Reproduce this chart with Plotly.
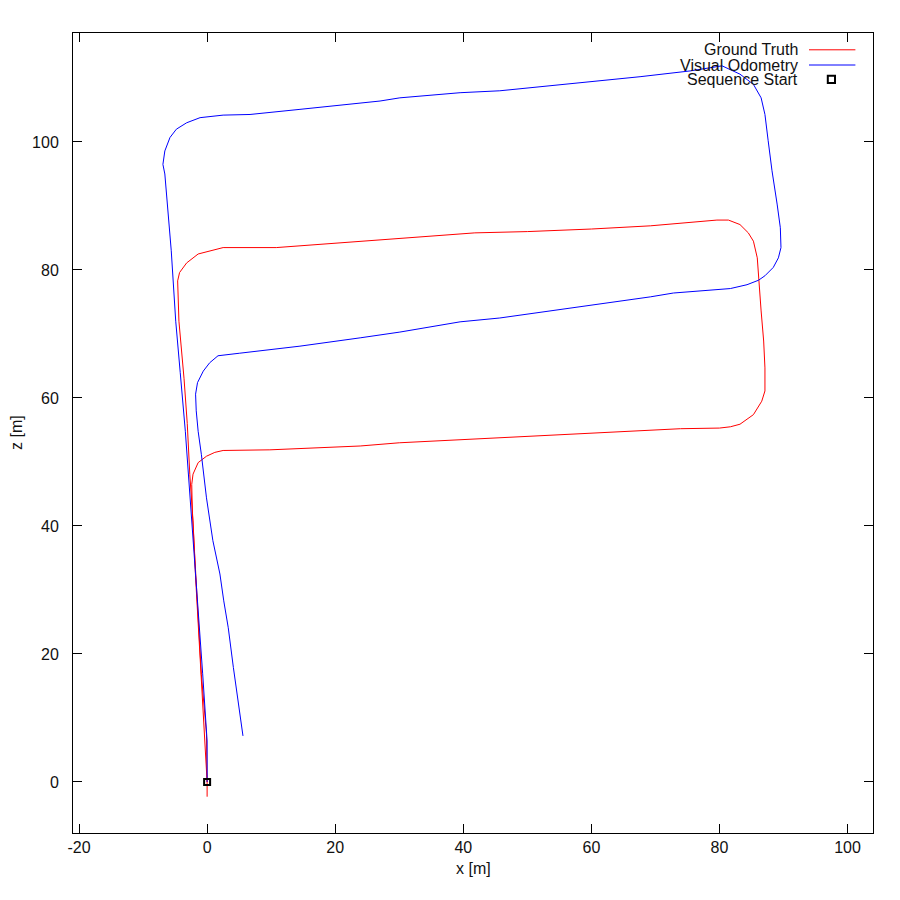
import plotly.graph_objects as go

# Ground truth trajectory (x, z) in metres
gt_x = [0, -0.1, -0.9, -1.4, -2.0, -2.3, -2.4, -2.2, -1.4, -0.1, 1.2, 2.5, 9.8, 14.5, 23.9, 30.0, 41.8, 50.0,
        61.4, 69.2, 73.9, 80.0, 81.7, 83.2, 85.3, 86.6, 87.1, 87.1, 86.9, 86.5, 86.2, 85.9, 85.3, 84.5, 83.2,
        81.4, 79.6, 76.5, 69.2, 60.0, 50.0, 41.8, 30.1, 20.0, 14.5, 10.8, 2.5, -1.4, -3.2, -4.3, -4.6, -4.5,
        -4.4, -3.6, -3.1, -2.7, -2.2, -1.8, -1.3, -0.6, 0.0, 0.0]
gt_z = [0, 7.5, 16.8, 25.2, 35.0, 42.0, 46.5, 48.1, 49.9, 50.9, 51.5, 51.8, 51.9, 52.1, 52.5, 53.0, 53.6, 54.0,
        54.5, 55.0, 55.2, 55.3, 55.5, 55.9, 57.4, 59.5, 61.1, 64.7, 68.9, 73.6, 78.3, 81.9, 84.5, 85.8, 87.1,
        87.8, 87.8, 87.5, 86.9, 86.4, 86.0, 85.8, 84.9, 84.2, 83.75, 83.5, 83.5, 82.5, 81.1, 79.6, 78.3, 73.9,
        72.0, 63.0, 56.0, 48.0, 40.8, 32.0, 23.6, 12.0, 0.0, -2.3]

# Visual odometry trajectory (x, z) in metres
vo_x = [0, 0.0, -0.7, -1.5, -2.4, -3.4, -4.2, -4.9, -5.6, -6.1, -6.6, -6.9, -6.6, -5.8, -4.8, -3.2, -1.1, 2.5,
        6.7, 14.5, 27.0, 30.1, 39.5, 45.7, 52.0, 61.4, 67.6, 75.4, 80.4, 83.2, 85.3, 86.5, 87.1, 87.6, 88.2,
        89.0, 89.5, 89.6, 89.2, 88.4, 87.1, 86.1, 84.3, 81.7, 78.0, 72.8, 69.2, 61.4, 45.7, 39.5, 30.1, 23.9,
        14.5, 5.1, 1.7, 0.4, -0.6, -1.5, -1.8, -1.7, -1.4, -0.9, -0.1, 0.9, 2.0, 2.6, 3.3, 4.1, 4.8, 5.6]
vo_z = [0, 6.4, 17.0, 28.3, 40.8, 54.8, 64.0, 72.0, 83.0, 89.7, 95.0, 96.5, 98.6, 100.7, 102.0, 103.0, 103.8,
        104.2, 104.3, 105.1, 106.4, 106.9, 107.7, 108.0, 108.6, 109.5, 110.2, 111.1, 111.9, 110.6, 109.0, 106.9,
        104.3, 100.2, 95.5, 90.3, 86.6, 83.5, 81.9, 80.4, 79.1, 78.4, 77.7, 77.1, 76.8, 76.4, 75.8, 74.7, 72.5,
        71.9, 70.3, 69.4, 68.1, 67.0, 66.6, 65.5, 64.2, 62.4, 60.6, 58.0, 54.8, 51.2, 44.4, 37.7, 32.5, 28.3,
        24.1, 17.9, 12.7, 7.2]

start_x = [0]
start_z = [0]

x_ticks = [-20, 0, 20, 40, 60, 80, 100]
x_ticktext = ["-20", "0", "20", "40", "60", "80", "100"]
z_ticks = [0, 20, 40, 60, 80, 100]
legend_labels = ["Ground Truth", "Visual Odometry", "Sequence Start"]
x_title = "x [m]"
z_title = "z [m]"

FONT = "Liberation Sans, Arial, sans-serif"
FS = 16
TXT = "#111"

fig = go.Figure()
fig.add_trace(go.Scatter(x=gt_x, y=gt_z, mode="lines", line=dict(color="#ff0000", width=1),
                         name=legend_labels[0], showlegend=False))
fig.add_trace(go.Scatter(x=vo_x, y=vo_z, mode="lines", line=dict(color="#0000ff", width=1),
                         name=legend_labels[1], showlegend=False))
fig.add_trace(go.Scatter(x=start_x, y=start_z, mode="markers",
                         marker=dict(symbol="square-open", size=6, color="black", line=dict(width=2, color="black")),
                         name=legend_labels[2], showlegend=False))

axis_common = dict(showgrid=False, zeroline=False, showline=True, linecolor="black", linewidth=1,
                   mirror="ticks", ticks="inside", ticklen=9, tickwidth=1, tickcolor="black",
                   automargin=False, tickfont=dict(family=FONT, size=FS, color=TXT))

fig.update_xaxes(range=[-20.94, 103.97], tickvals=x_ticks, ticktext=x_ticktext, ticklabelstandoff=0,
                 **axis_common)
fig.update_yaxes(range=[-7.97, 117.03], tickvals=z_ticks, ticklabelstandoff=10,
                 **axis_common)

# axis titles
fig.add_annotation(xref="paper", yref="paper", x=0.5, y=0, yshift=-35, text=x_title, showarrow=False,
                   xanchor="center", yanchor="middle", font=dict(family=FONT, size=FS, color=TXT))
fig.add_annotation(xref="paper", yref="paper", x=0, y=0.5, xshift=-57, text=z_title, showarrow=False,
                   textangle=-90, xanchor="center", yanchor="middle", font=dict(family=FONT, size=FS, color=TXT))

# custom gnuplot-style legend (text right-aligned, sample to the right)
rows_y = [0.979, 0.960, 0.942]
for lab, yy in zip(legend_labels, rows_y):
    fig.add_annotation(xref="paper", yref="paper", x=0.909, y=yy, text=lab, showarrow=False,
                       xanchor="right", yanchor="middle", font=dict(family=FONT, size=FS, color=TXT))
for col, yy in zip(["#ff0000", "#0000ff"], rows_y[:2]):
    fig.add_shape(type="line", xref="paper", yref="paper", x0=0.920, x1=0.978, y0=yy, y1=yy,
                  line=dict(color=col, width=1))
fig.add_shape(type="rect", xref="paper", yref="paper", x0=0.9435, x1=0.9525, y0=rows_y[2] - 0.0045,
              y1=rows_y[2] + 0.0045, line=dict(color="black", width=2))

fig.update_layout(width=892, height=892, paper_bgcolor="white", plot_bgcolor="white",
                  margin=dict(l=65, r=27, t=25, b=67), showlegend=False)

fig.write_html("out.html")
